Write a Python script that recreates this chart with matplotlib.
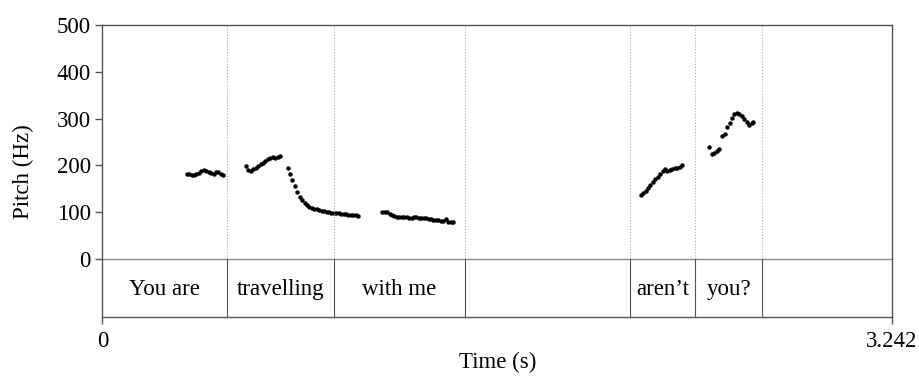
import matplotlib.pyplot as plt

plt.rcParams['font.family'] = ['Liberation Serif', 'DejaVu Serif']

# pitch track, one list per voiced stretch (time in s, pitch in Hz)
t_you_are = [0.346, 0.356, 0.366, 0.376, 0.386, 0.396, 0.406, 0.416, 0.426, 0.436,
             0.446, 0.456, 0.466, 0.476, 0.486, 0.496]
f_you_are = [181, 181, 180, 179, 181, 184, 188, 190, 189, 186,
             183, 181, 185, 185, 182, 180]

t_travel = [0.589, 0.599, 0.609, 0.619, 0.629, 0.639, 0.649, 0.659, 0.669, 0.679,
            0.689, 0.699, 0.709, 0.719, 0.729,
            0.760, 0.770, 0.780, 0.790, 0.800, 0.810, 0.820, 0.830, 0.840, 0.850,
            0.860, 0.870, 0.880, 0.890, 0.900, 0.910, 0.920, 0.930, 0.940, 0.950,
            0.960, 0.970, 0.980, 0.990, 1.000, 1.010, 1.020, 1.030, 1.040, 1.050]
f_travel = [199, 190, 189, 192, 195, 199, 203, 206, 210, 213,
            216, 218, 216, 218, 220,
            194, 181, 168, 156, 144, 133, 126, 120, 115, 112,
            109.5, 107.5, 106, 104.5, 103.5, 102.5, 101, 99.5, 99, 98.5,
            98, 97.5, 97, 96.5, 95.5, 95, 94, 93.5, 93, 92.5]

t_with_me = [1.149, 1.159, 1.169, 1.179, 1.189, 1.199, 1.209, 1.219, 1.229, 1.239,
             1.249, 1.259, 1.269, 1.279, 1.289, 1.299, 1.309, 1.319, 1.329, 1.339,
             1.349, 1.359, 1.369, 1.379, 1.389, 1.399, 1.409, 1.419, 1.429, 1.439]
f_with_me = [101, 101, 100, 97, 93, 91, 90, 89.5, 89, 89,
             89, 88.5, 88.5, 89, 89, 88.5, 88, 87.5, 87, 86,
             85, 84, 83, 82.5, 81.5, 82, 85, 80, 79, 78]

t_arent = [2.210, 2.220, 2.230, 2.240, 2.250, 2.260, 2.270, 2.280, 2.290, 2.300,
           2.310, 2.320, 2.330, 2.340, 2.350, 2.360, 2.370, 2.380]
f_arent = [137, 141, 146, 151, 158, 164, 170, 176, 181, 187,
           192, 188, 190, 193, 194, 195, 197, 200]

t_you = [2.491, 2.503, 2.513, 2.523, 2.533, 2.545, 2.555, 2.565, 2.575, 2.585,
         2.595, 2.605, 2.615, 2.625, 2.635, 2.645, 2.655, 2.665, 2.673]
f_you = [240, 224, 227, 231, 236, 262, 268, 281, 290, 302,
         309, 311, 309, 305, 299, 292, 287, 290, 293]

# word tier
boundaries = [0.5125, 0.951, 1.4875, 2.166, 2.433, 2.710]
words = ['You are', 'travelling', 'with me', '', 'aren\u2019t', 'you?', '']
duration = 3.242

fig = plt.figure(figsize=(9.2, 3.78), dpi=100)
ax = fig.add_axes([0.1114, 0.1601, 0.8582, 0.7738])

for t, f in [(t_you_are, f_you_are), (t_travel, f_travel), (t_with_me, f_with_me),
             (t_arent, f_arent), (t_you, f_you)]:
    ax.plot(t, f, 'o', color='black', markersize=3.2, markeredgewidth=0)

ax.set_xlim(0, duration)
ax.set_ylim(-125, 500)

ax.axhline(0, color='#8c8c8c', linewidth=1)
for b in boundaries:
    ax.plot([b, b], [0, 500], color='#a8a8a8', linestyle=':', linewidth=0.8)
    ax.plot([b, b], [-125, 0], color='#555555', linewidth=0.8)

edges = [0] + boundaries + [duration]
for i, w in enumerate(words):
    ax.text((edges[i] + edges[i + 1]) / 2, -66, w, ha='center', va='center', fontsize=16.5)

ax.set_yticks([0, 100, 200, 300, 400, 500])
ax.set_xticks([0, duration])
ax.set_xticklabels(['0', '3.242'])
ax.tick_params(direction='out', length=5, width=1, color='#555555', labelsize=16.5)
ax.tick_params(axis='x', pad=5)
ax.set_ylabel('Pitch (Hz)', fontsize=16.5, labelpad=16)
ax.set_xlabel('Time (s)', fontsize=16.5, labelpad=0)
for s in ax.spines.values():
    s.set_color('#555555')
    s.set_linewidth(1)

fig.savefig('out.png', dpi=100)
